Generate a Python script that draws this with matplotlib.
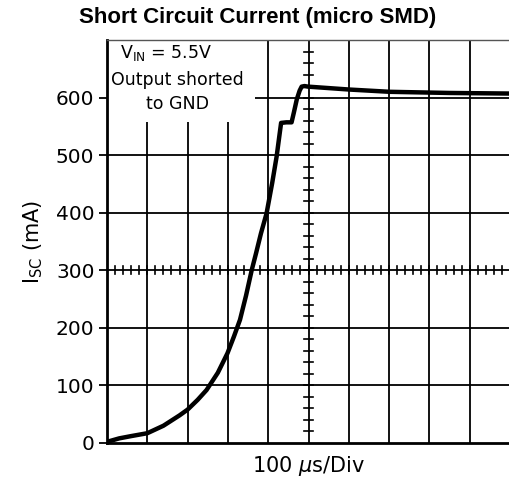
"""Short circuit current scope capture (micro SMD), redrawn as a grid plot."""
import matplotlib

matplotlib.use("Agg")
import matplotlib.pyplot as plt
from matplotlib.patches import Rectangle
import numpy as np

# scope trace, x in divisions (100 us/div), y in mA
t_div = [0.0, 0.3, 0.6, 1.0, 1.4, 1.8, 2.0, 2.25, 2.47, 2.75, 2.99, 3.15, 3.3,
         3.45, 3.59, 3.7, 3.82, 3.96, 4.1, 4.21, 4.28, 4.32, 4.45, 4.58, 4.64,
         4.71, 4.78, 4.83, 4.9, 4.99, 6.0, 7.02, 8.5, 10.0]
i_sc = [2, 8, 12, 17, 30, 48, 58, 75, 92, 122, 156, 185, 214, 256, 300, 330,
        364, 399, 452, 498, 535, 556, 557, 557, 575, 597, 612, 619, 620, 619,
        614, 610, 608, 607]

yticks = [0, 100, 200, 300, 400, 500, 600]
ytick_labels = ["0", "100", "200", "300", "400", "500", "600"]

W, H = 510, 482
fig = plt.figure(figsize=(W / 100, H / 100), dpi=100)
ax = fig.add_axes([107 / W, 1 - 443 / H, 403 / W, 403 / H])
ax.set_xlim(0, 10)
ax.set_ylim(0, 700)

# graticule
for xv in range(1, 10):
    ax.axvline(xv, color="black", lw=1.3, zorder=1)
for yv in range(100, 700, 100):
    ax.axhline(yv, color="black", lw=1.3, zorder=1)

# minor ticks on the centre lines
for xm in np.arange(0.2, 10, 0.2):
    ax.plot([xm, xm], [300 - 7, 300 + 7], color="black", lw=1.2, zorder=1)
for ym in np.arange(20, 700, 20):
    ax.plot([5 - 0.1, 5 + 0.1], [ym, ym], color="black", lw=1.2, zorder=1)

ax.plot(t_div, i_sc, color="black", lw=3.2, solid_capstyle="round",
        solid_joinstyle="round", zorder=3)

# white label box over the graticule
ax.add_patch(Rectangle((0, 558), 3.67, 142, facecolor="white",
                       edgecolor="none", zorder=1.5))
ax.text(0.33, 677, "V$_{\\mathregular{IN}}$ = 5.5V", ha="left", va="center",
        fontsize=12.5, zorder=2)
ax.text(1.75, 630, "Output shorted", ha="center", va="center",
        fontsize=12.5, zorder=2)
ax.text(1.75, 588, "to GND", ha="center", va="center",
        fontsize=12.5, zorder=2)

for side in ["left", "bottom"]:
    ax.spines[side].set_linewidth(2)
ax.spines["top"].set_linewidth(1)
ax.spines["top"].set_color("#555555")
ax.spines["right"].set_visible(False)

ax.set_xticks([])
ax.set_yticks(yticks)
ax.set_yticklabels(ytick_labels, fontsize=14.5)
ax.tick_params(axis="y", length=6, width=1.3, pad=3)

ax.set_ylabel("I$_{\\mathregular{SC}}$ (mA)", fontsize=15, labelpad=8)
ax.set_xlabel("100 $\\mu$s/Div", fontsize=15, labelpad=8)

fig.text(258 / W, 1 - 18 / H, "Short Circuit Current (micro SMD)",
         ha="center", va="center", fontsize=16, fontweight="bold",
         family="Liberation Sans")

fig.savefig("out.png", dpi=100)
